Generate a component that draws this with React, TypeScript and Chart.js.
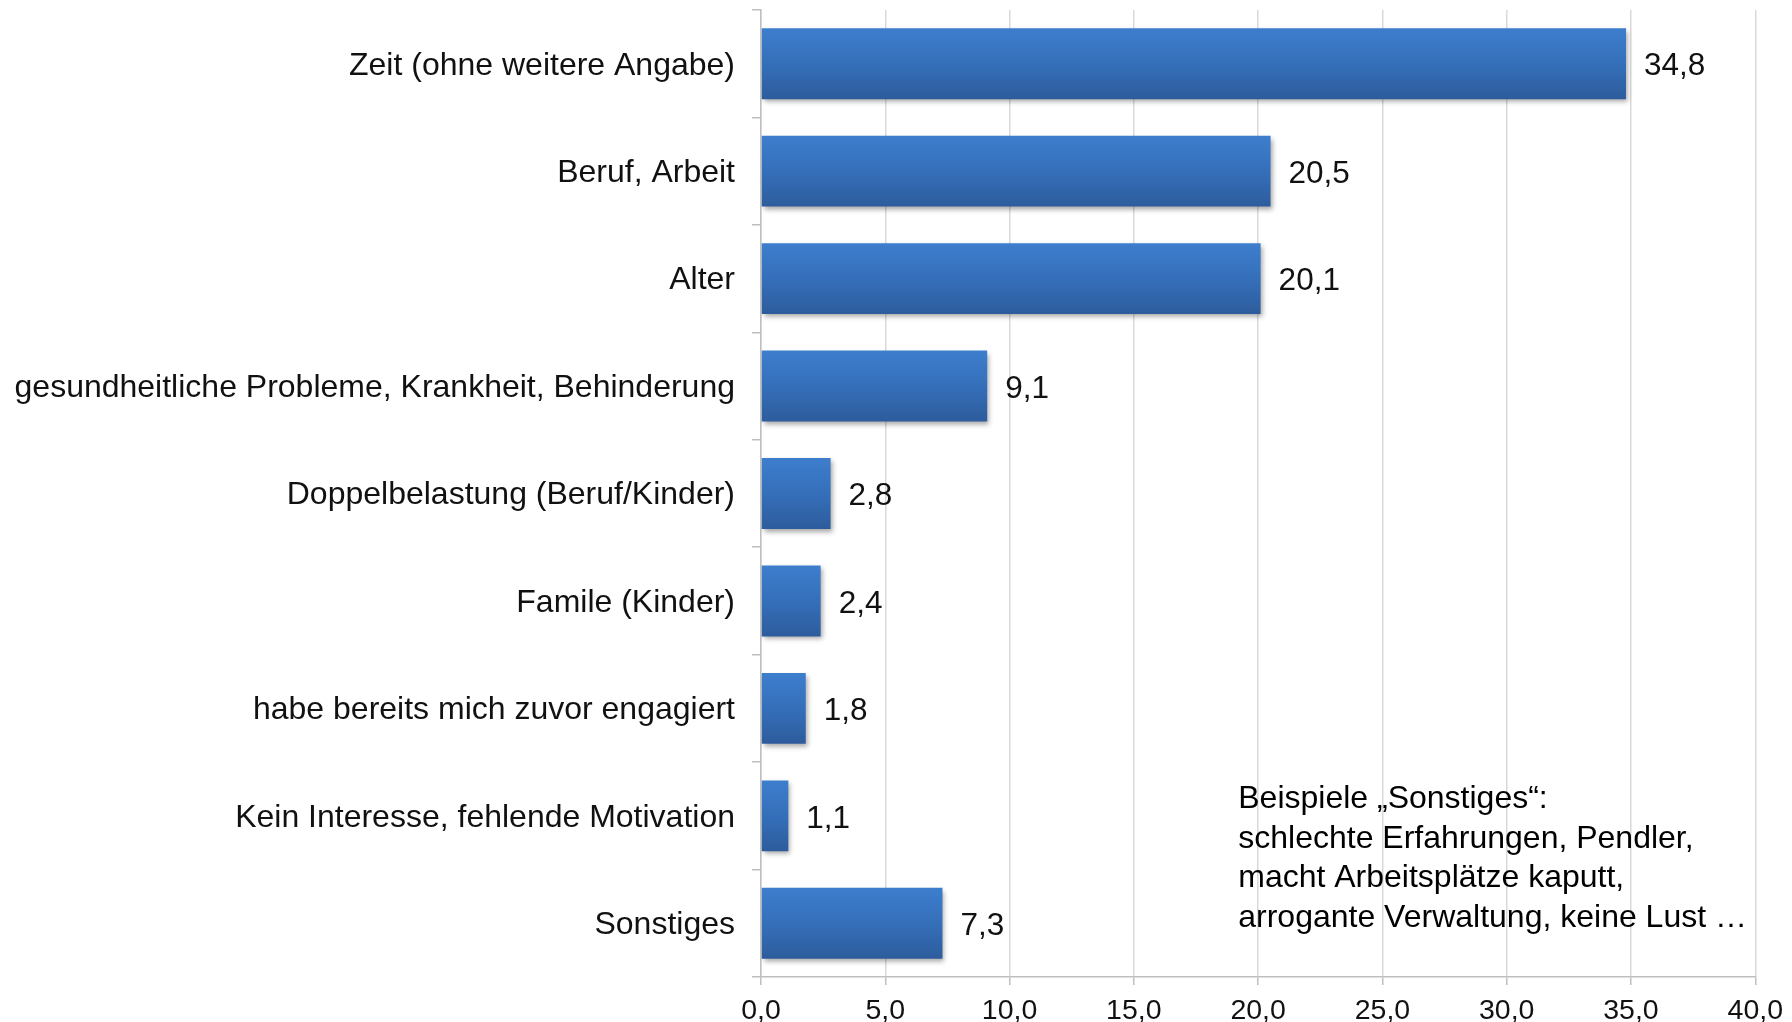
import React, { useEffect, useRef } from "react";
import { Chart, registerables } from "chart.js";

Chart.register(...registerables);

const categories = [
  "Zeit (ohne weitere Angabe)",
  "Beruf, Arbeit",
  "Alter",
  "gesundheitliche Probleme, Krankheit, Behinderung",
  "Doppelbelastung (Beruf/Kinder)",
  "Famile (Kinder)",
  "habe bereits mich zuvor engagiert",
  "Kein Interesse, fehlende Motivation",
  "Sonstiges",
];
const values = [34.8, 20.5, 20.1, 9.1, 2.8, 2.4, 1.8, 1.1, 7.3];
const noteLines = [
  "Beispiele \u201eSonstiges\u201c:",
  "schlechte Erfahrungen, Pendler,",
  "macht Arbeitsplätze kaputt,",
  "arrogante Verwaltung, keine Lust \u2026",
];
const xMin = 0;
const xMax = 40;
const xStep = 5;

const FONT = "'Liberation Sans', Arial, sans-serif";
const fmt = (v: number) => v.toFixed(1).replace(".", ",");

export default function App() {
  const ref = useRef<HTMLCanvasElement | null>(null);
  useEffect(() => {
    document.body.style.margin = "0";
    const canvas = ref.current!;
    const barPct = 0.66;

    const shadowPlugin = {
      id: "barShadow",
      beforeDatasetDraw(chart: any) {
        const c = chart.ctx;
        c.save();
        c.shadowColor = "rgba(0,0,0,0.35)";
        c.shadowBlur = 5;
        c.shadowOffsetX = 2;
        c.shadowOffsetY = 3;
      },
      afterDatasetDraw(chart: any) {
        chart.ctx.restore();
      },
    };

    const labelPlugin = {
      id: "valueLabels",
      afterDatasetsDraw(chart: any) {
        const c = chart.ctx;
        const meta = chart.getDatasetMeta(0);
        c.save();
        c.font = `31.5px ${FONT}`;
        c.fillStyle = "#111";
        c.textAlign = "left";
        c.textBaseline = "middle";
        meta.data.forEach((el: any, i: number) => {
          c.fillText(fmt(values[i]), el.x + 18, el.y + 3);
        });
        // annotation
        const xs = chart.scales.x;
        const ys = chart.scales.y;
        const left = xs.getPixelForValue(19.2);
        const band = (ys.bottom - ys.top) / categories.length;
        const y0 = ys.top + band * 7.33 + 2;
        c.font = `32px ${FONT}`;
        c.fillStyle = "#000";
        noteLines.forEach((t, i) => c.fillText(t, left, y0 + i * 39.4));
        c.restore();
      },
    };

    const chart = new Chart(canvas, {
      type: "bar",
      data: {
        labels: categories,
        datasets: [
          {
            data: values,
            barPercentage: barPct,
            categoryPercentage: 1,
            borderWidth: 0,
            backgroundColor: (ctx: any) => {
              const ch = ctx.chart;
              const ys = ch.scales?.y;
              if (!ys || ctx.dataIndex === undefined) return "#3670bb";
              const band = (ys.bottom - ys.top) / categories.length;
              const cy = ys.getPixelForValue(ctx.dataIndex);
              const h = (band * barPct) / 2;
              if (!isFinite(cy) || !isFinite(h) || h <= 0) return "#3670bb";
              const g = ch.ctx.createLinearGradient(0, cy - h, 0, cy + h);
              g.addColorStop(0, "#3d7ecd");
              g.addColorStop(0.5, "#356fba");
              g.addColorStop(1, "#2d5c9c");
              return g;
            },
          },
        ],
      },
      plugins: [shadowPlugin, labelPlugin],
      options: {
        indexAxis: "y",
        animation: false,
        responsive: false,
        maintainAspectRatio: false,
        layout: { padding: { left: 0, right: 36, top: 10, bottom: 0 } },
        plugins: { legend: { display: false }, tooltip: { enabled: false } },
        scales: {
          x: {
            min: xMin,
            max: xMax,
            ticks: {
              stepSize: xStep,
              callback: (v: any) => fmt(Number(v)),
              font: { family: FONT, size: 28.5 },
              color: "#111",
              padding: 9,
              maxRotation: 0,
            },
            grid: {
              color: "#d9d9d9",
              lineWidth: 1.5,
              tickLength: 8,
              tickColor: "#bfbfbf",
            },
            border: { color: "#bfbfbf", width: 1.5 },
            afterFit: (s: any) => {
              s.height = 45;
              s.paddingLeft = 0;
            },
          },
          y: {
            ticks: {
              font: { family: FONT, size: 32 },
              color: "#111",
              padding: 17,
              labelOffset: 2,
              autoSkip: false,
            },
            grid: {
              drawOnChartArea: false,
              tickLength: 9,
              color: "#bfbfbf",
              lineWidth: 1.5,
              offset: true,
            },
            border: { color: "#bfbfbf", width: 1.5 },
            afterFit: (s: any) => {
              s.width = 761;
              s.paddingTop = 0;
              s.paddingBottom = 0;
            },
          },
        },
      },
    });
    chart.update();
    return () => chart.destroy();
  }, []);
  return (
    <div style={{ width: 1792, height: 1022, background: "#fff" }}>
      <canvas ref={ref} width={1792} height={1022} style={{ display: "block" }} />
    </div>
  );
}
